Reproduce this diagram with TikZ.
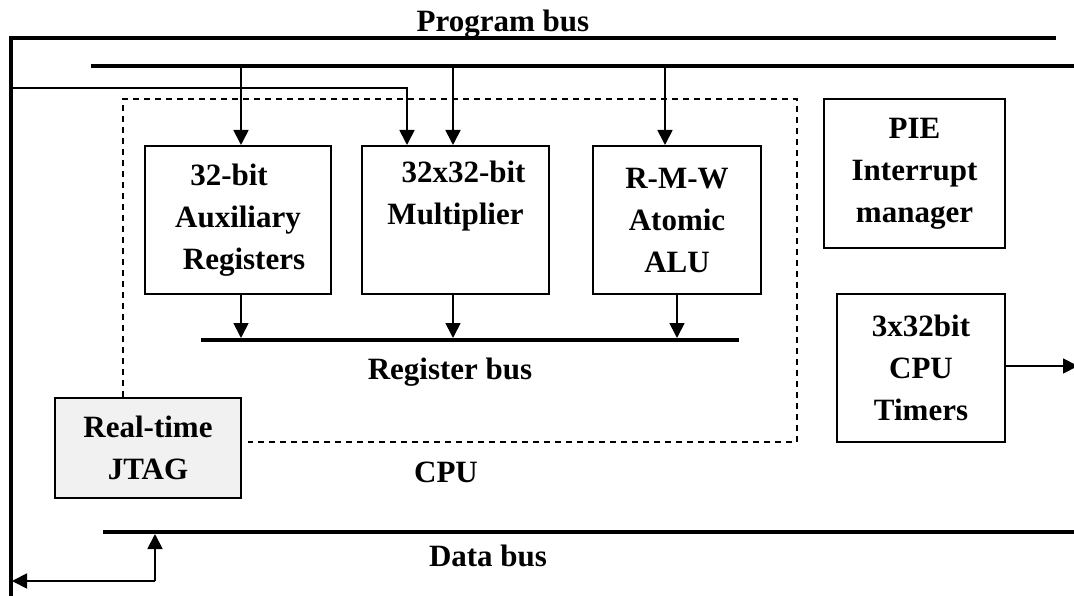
\documentclass[tikz,border=0pt]{standalone}
\usepackage{fontspec}
\setmainfont{Liberation Serif}
\usetikzlibrary{arrows.meta,calc}
\definecolor{jtagfill}{HTML}{F1F1F1}
\tikzset{
  lbl/.style={font=\fontsize{31}{42}\selectfont\bfseries, align=center, inner sep=0pt},
  blockbox/.style={draw, line width=2pt, inner sep=0pt, lbl},
  bus/.style={line width=3.8pt},
  wire/.style={line width=1.8pt},
  arr/.style={wire, -{Triangle[length=15pt,width=15pt]}},
  cpuframe/.style={line width=1.6pt, dash pattern=on 6pt off 5pt},
}
\begin{document}
\begin{tikzpicture}[x=1pt,y=-1pt]
\useasboundingbox (0,0) rectangle (1074,596);

% bus end points
\coordinate (pbL) at (11,38);
\coordinate (pbR) at (1056,38);
\coordinate (pbB) at (11,600);
\coordinate (ibL) at (91,66);
\coordinate (ibR) at (1078,66);
\coordinate (rbL) at (201,340);
\coordinate (rbR) at (739,340);
\coordinate (dbL) at (103,532);
\coordinate (dbR) at (1078,532);

% taps on the buses
\coordinate (t1) at (241,66);
\coordinate (t2) at (453,66);
\coordinate (t3) at (665,66);
\coordinate (u1) at (241,338);
\coordinate (u2) at (453,338);
\coordinate (u3) at (677,338);
\coordinate (jt) at (11,88);
\coordinate (jc) at (407,88);
\coordinate (dj) at (155,581);
\coordinate (dt) at (155,534);
\coordinate (dl) at (12,581);
\coordinate (tout) at (1078,366);

% blocks
\node[blockbox, minimum width=186pt, minimum height=148pt] (aux) at (238,220)
  {32-bit\hspace*{18pt}\\Auxiliary\\\hspace*{12pt}Registers};
\node[blockbox, minimum width=187pt, minimum height=148pt] (mul) at (455.5,220)
  {\hspace*{16pt}32x32-bit\\Multiplier\\\strut};
\node[blockbox, minimum width=168pt, minimum height=148pt] (alu) at (677,220)
  {R-M-W\\Atomic\\ALU};
\node[blockbox, minimum width=181pt, minimum height=149pt] (pie) at (914.5,173.5)
  {PIE\\Interrupt\\manager};
\node[blockbox, minimum width=168pt, minimum height=148pt] (tmr) at (921,368)
  {3x32bit\\CPU\\Timers};
\node[blockbox, fill=jtagfill, minimum width=186pt, minimum height=100pt] (jtag) at (148,448)
  {Real-time\\JTAG};

% labels
\node[lbl] (lpb) at (503,24) {Program bus};
\node[lbl] (lrb) at (450,372) {Register bus};
\node[lbl] (lcpu) at (446,472) {CPU};
\node[lbl] (ldb) at (488,556) {Data bus};

% CPU outline
\draw[cpuframe] (jtag.north -| 123,0) -- (123,99) -- (797,99) -- (797,442) -- (248,442);

% buses
\draw[bus, line width=3.4pt, line cap=butt, line join=miter] (pbB) -- (pbL) -- (pbR);
\draw[bus] (ibL) -- (ibR);
\draw[bus] (rbL) -- (rbR);
\draw[bus] (dbL) -- (dbR);

% program bus to the blocks
\draw[arr] (t1) -- (t1 |- aux.north);
\draw[arr] (t2) -- (t2 |- mul.north);
\draw[arr] (t3) -- (t3 |- alu.north);
\draw[arr] (jt) -- (jc) -- (jc |- mul.north);

% blocks to the register bus
\draw[arr] (u1 |- aux.south) -- (u1);
\draw[arr] (u2 |- mul.south) -- (u2);
\draw[arr] (u3 |- alu.south) -- (u3);

% timers output
\draw[arr] (tmr.east |- tout) -- (tout);

% data bus link
\draw[arr] (dj) -- (dt);
\draw[arr] (dj) -- (dl);
\end{tikzpicture}
\end{document}
